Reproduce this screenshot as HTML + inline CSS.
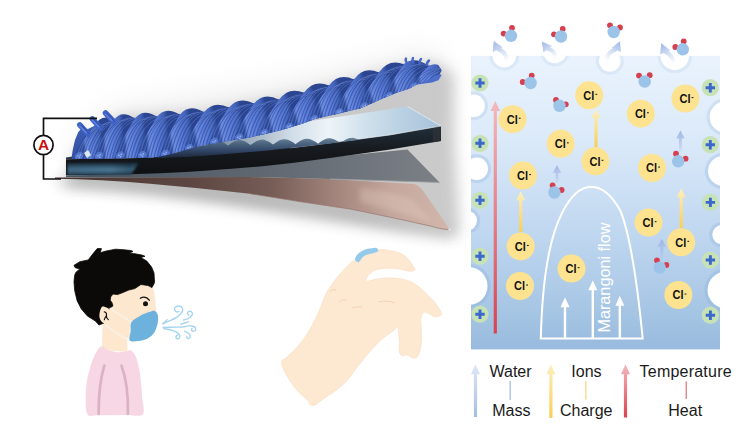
<!DOCTYPE html>
<html><head><meta charset="utf-8"><style>
html,body{margin:0;padding:0;background:#fff;}
body{width:754px;height:445px;overflow:hidden;font-family:"Liberation Sans",sans-serif;}
svg{display:block;}
</style></head><body>
<svg width="754" height="445" viewBox="0 0 754 445">
<defs>
 <linearGradient id="panelG" x1="0" y1="0" x2="0" y2="1">
  <stop offset="0" stop-color="#eaf3fd"/>
  <stop offset="0.3" stop-color="#dae9f9"/>
  <stop offset="0.6" stop-color="#c0d7f0"/>
  <stop offset="0.85" stop-color="#a8c7e5"/>
  <stop offset="1" stop-color="#98badd"/>
 </linearGradient>
 <linearGradient id="redA" x1="0" y1="0" x2="0" y2="1">
  <stop offset="0" stop-color="#f3b9bd"/>
  <stop offset="1" stop-color="#d9434f"/>
 </linearGradient>
 <linearGradient id="yelA" x1="0" y1="0" x2="0" y2="1">
  <stop offset="0" stop-color="#fdefc0"/>
  <stop offset="1" stop-color="#f8cf55"/>
 </linearGradient>
 <linearGradient id="bluA" x1="0" y1="0" x2="0" y2="1">
  <stop offset="0" stop-color="#dfe7f6"/>
  <stop offset="1" stop-color="#a5bde6"/>
 </linearGradient>
 <linearGradient id="bluS" x1="0" y1="0" x2="0" y2="1">
  <stop offset="0" stop-color="#9fb6e6"/>
  <stop offset="1" stop-color="#9fb6e6" stop-opacity="0.1"/>
 </linearGradient>
 <linearGradient id="copperG" x1="55" y1="0" x2="450" y2="0" gradientUnits="userSpaceOnUse">
  <stop offset="0" stop-color="#46342f"/>
  <stop offset="0.35" stop-color="#5e4742"/>
  <stop offset="0.55" stop-color="#765d56"/>
  <stop offset="0.7" stop-color="#a0827a"/>
  <stop offset="0.85" stop-color="#c4a69c"/>
  <stop offset="1" stop-color="#d3b7ab"/>
 </linearGradient>
 <linearGradient id="greyG" x1="66" y1="0" x2="440" y2="0" gradientUnits="userSpaceOnUse">
  <stop offset="0" stop-color="#4a5662"/>
  <stop offset="0.5" stop-color="#5e6670"/>
  <stop offset="1" stop-color="#7c8086"/>
 </linearGradient>
 <linearGradient id="glassTop" x1="66" y1="0" x2="441" y2="0" gradientUnits="userSpaceOnUse">
  <stop offset="0" stop-color="#2a3440"/>
  <stop offset="0.4" stop-color="#7a8c9c"/>
  <stop offset="0.6" stop-color="#d0dce8"/>
  <stop offset="0.7" stop-color="#eef4f8"/>
  <stop offset="0.8" stop-color="#d0e0ec"/>
  <stop offset="0.9" stop-color="#b8d0e2"/>
  <stop offset="1" stop-color="#a6c2da"/>
 </linearGradient>
 <linearGradient id="glassFront" x1="0" y1="0" x2="0" y2="1">
  <stop offset="0" stop-color="#22303c"/>
  <stop offset="0.5" stop-color="#16191d"/>
  <stop offset="1" stop-color="#0e1013"/>
 </linearGradient>
 <filter id="blur6" x="-20%" y="-50%" width="140%" height="200%"><feGaussianBlur stdDeviation="7"/></filter>
 <filter id="blur3"><feGaussianBlur stdDeviation="2.5"/></filter>
 <filter id="blur1"><feGaussianBlur stdDeviation="0.8"/></filter>
 <radialGradient id="poreHalo">
  <stop offset="0.7" stop-color="#ffffff"/>
  <stop offset="0.78" stop-color="#ffffff"/>
  <stop offset="0.82" stop-color="#d8e6f6"/>
  <stop offset="1" stop-color="#d8e6f6" stop-opacity="0"/>
 </radialGradient>
 <linearGradient id="yarnBase" x1="0" y1="0" x2="0" y2="1">
  <stop offset="0" stop-color="#5273d2"/>
  <stop offset="1" stop-color="#3450a4"/>
 </linearGradient>
 <linearGradient id="lobeG" x1="0" y1="0" x2="0" y2="1">
  <stop offset="0" stop-color="#6b8fe6"/>
  <stop offset="0.45" stop-color="#4b71d6"/>
  <stop offset="1" stop-color="#22398a"/>
 </linearGradient>
 <filter id="blurS" filterUnits="userSpaceOnUse" x="0" y="0" width="754" height="445"><feGaussianBlur stdDeviation="7"/></filter>
 <linearGradient id="ribG" x1="0" y1="0" x2="0" y2="1">
  <stop offset="0" stop-color="#6e879c"/>
  <stop offset="0.25" stop-color="#4f6882"/>
  <stop offset="0.6" stop-color="#33486a"/>
  <stop offset="1" stop-color="#1c2638"/>
 </linearGradient>
 <linearGradient id="glassHi" x1="0" y1="0" x2="0" y2="1">
  <stop offset="0" stop-color="#1a2a38"/>
  <stop offset="0.55" stop-color="#4a7896"/>
  <stop offset="1" stop-color="#2c4c64"/>
 </linearGradient>
 <filter id="blurL" filterUnits="userSpaceOnUse" x="0" y="0" width="754" height="445"><feGaussianBlur stdDeviation="14"/></filter>
 <linearGradient id="glassHiH" x1="67" y1="0" x2="140" y2="0" gradientUnits="userSpaceOnUse">
  <stop offset="0" stop-color="#12161a" stop-opacity="0.1"/>
  <stop offset="0.6" stop-color="#12161a" stop-opacity="0"/>
  <stop offset="1" stop-color="#12161a" stop-opacity="0.35"/>
 </linearGradient>
</defs>

<path d="M66 150 L110 112 L200 106 L300 88 L400 60 L430 58 L446 70 L446 126 L452 232 L420 222 L300 202 L150 186 L60 180 Z" fill="#6e6e6e" opacity="0.36" transform="translate(8 5)" filter="url(#blurS)"/>
<path d="M58 178 Q100 180 150 184 Q200 188 250 194 Q300 202 350 209.5 Q400 219 450 230 L452 238 Q400 232 350 224 Q300 216 250 208 Q200 200 150 194 Q100 188 62 186 Z" fill="#707070" opacity="0.48" filter="url(#blurS)"/>
<path d="M70 150 L110 110 L300 80 L430 50 L445 70 L440 130 L300 150 L80 170 Z" fill="#c8c8c8" opacity="0.3" filter="url(#blurL)"/>
<path d="M55 177.6 L140 177.3 L250 177 L330 179 L414.3 184 Q420 186 424 192 L450 230 Q440 229 430 226 Q400 219 350 209 Q300 202 250 193.7 Q200 188 150 183.7 Q100 179.5 55 178.8 Z" fill="url(#copperG)"/>
<path d="M360 188 Q395 192 412 200 L432 222 Q400 212 360 202 Z" fill="#e6d0c6" opacity="0.32" filter="url(#blur3)"/>
<path d="M250 193.7 Q300 202 350 209 Q400 219 430 226 Q440 229 450 230" stroke="#8a6a62" stroke-width="0.9" fill="none" opacity="0.65"/>
<circle cx="449.5" cy="229.6" r="1.1" fill="#f4ece8"/>
<path d="M66 176 L140 173 L300 160 L407.5 149.5 L439.6 182.4 L330 179 L250 177 L140 177.3 L66 177 Z" fill="url(#greyG)"/>
<path d="M330 179 L439.6 182.4" stroke="#9a9ea4" stroke-width="0.9" fill="none"/>
<path d="M66 157.5 L407.5 106.5 L441 126 Q415 130.5 390 134.9 Q360 139 330 142.8 Q295 147 260 150.5 Q220 154 190 156 Q160 157.7 130 158.3 L66 159.3 Z" fill="url(#glassTop)"/>
<path d="M407.5 106.5 L441 126" stroke="#e8eef4" stroke-width="0.8"/>
<path d="M66 159.3 L130 158.3 Q160 157.7 190 156 Q220 154 260 150.5 Q295 147 330 142.8 Q360 139 390 134.9 Q415 130.5 441 126 L441 141.1 Q415 145.5 390 149.6 Q360 154 330 158 Q295 163 260 166.5 Q220 170 190 171.7 Q160 173.5 130 174.3 L66 175.5 Z" fill="url(#glassFront)"/>
<path d="M67.5 163 L139 162.5 L131 174.5 L67.5 175 Z" fill="url(#glassHi)" filter="url(#blur1)"/>
<path d="M67.5 163 L139 162.5 L131 174.5 L67.5 175 Z" fill="url(#glassHiH)" filter="url(#blur1)"/>
<path d="M433 127.3 L440.5 126.2 L440.5 141 L433 142.3 Z" fill="#2c3036" opacity="0.9"/>
<path d="M290 147.8 Q310 145.6 330 142.8 Q360 139 390 134.9 Q415 130.5 441 126" stroke="#eef4f8" stroke-width="0.9" fill="none" opacity="0.75"/>
<path d="M150.0 141.9 L151.5 142.1 L153.0 142.5 L154.5 143.1 L156.0 143.9 L157.5 144.8 L159.0 145.8 L160.5 146.8 L162.0 145.7 L163.5 144.7 L165.0 143.7 L166.5 142.9 L168.0 142.2 L169.5 141.7 L171.0 141.5 L172.5 141.4 L174.0 141.6 L175.5 142.0 L177.0 142.7 L178.5 143.4 L180.0 144.3 L181.5 145.3 L183.0 146.4 L184.5 145.3 L186.0 144.2 L187.5 143.3 L189.0 142.4 L190.5 141.7 L192.0 141.3 L193.5 141.0 L195.0 141.0 L196.5 141.2 L198.0 141.6 L199.5 142.2 L201.0 143.0 L202.5 143.9 L204.0 144.9 L205.5 145.9 L207.0 144.8 L208.5 143.8 L210.0 142.8 L211.5 142.0 L213.0 141.3 L214.5 140.8 L216.0 140.6 L217.5 140.5 L219.0 140.7 L220.5 141.1 L222.0 141.8 L223.5 142.5 L225.0 143.4 L226.5 144.4 L228.0 145.5 L229.5 144.4 L231.0 143.3 L232.5 142.4 L234.0 141.5 L235.5 140.8 L237.0 140.4 L238.5 140.1 L240.0 140.1 L241.5 140.3 L243.0 140.7 L244.5 141.3 L246.0 142.1 L247.5 143.0 L249.0 144.0 L250.5 145.0 L252.0 143.9 L253.5 142.9 L255.0 141.9 L256.5 141.1 L258.0 140.4 L259.5 139.9 L261.0 139.7 L262.5 139.6 L264.0 139.8 L265.5 140.2 L267.0 140.9 L268.5 141.6 L270.0 142.5 L271.5 143.5 L273.0 144.6 L274.5 143.5 L276.0 142.4 L277.5 141.5 L279.0 140.6 L280.5 139.9 L282.0 139.5 L283.5 139.2 L285.0 139.2 L286.5 139.4 L288.0 139.8 L289.5 140.4 L291.0 141.2 L292.5 142.1 L294.0 143.1 L295.5 144.2 L297.0 143.0 L298.5 142.0 L300.0 141.0 L301.5 140.2 L303.0 139.5 L304.5 139.0 L306.0 138.8 L307.5 138.7 L309.0 138.9 L310.5 139.3 L312.0 140.0 L313.5 140.7 L315.0 141.6 L316.5 142.6 L318.0 143.7 L319.5 142.6 L321.0 141.5 L322.5 140.6 L324.0 139.7 L325.5 139.0 L327.0 138.6 L328.5 138.3 L330.0 138.3 L331.5 138.5 L333.0 138.9 L334.5 139.5 L336.0 140.3 L337.5 141.2 L339.0 142.1 L340.5 141.9 L342.0 141.7 L343.5 141.1 L345.0 140.1 L346.5 139.3 L348.0 138.6 L349.5 138.1 L351.0 137.9 L352.5 137.8 L354.0 138.0 L355.5 138.4 L357.0 139.1 L358.5 139.5 L360.0 139.4 L361.5 139.2 L363.0 139.0 L364.0 139.1 L358.0 139.9 L352.0 140.7 L346.0 141.5 L340.0 142.3 L334.0 143.1 L328.0 143.8 L322.0 144.5 L316.0 145.1 L310.0 145.8 L304.0 146.5 L298.0 147.1 L292.0 147.8 L286.0 148.4 L280.0 149.1 L274.0 149.8 L268.0 150.4 L262.0 151.1 L256.0 151.6 L250.0 152.1 L244.0 152.6 L238.0 153.0 L232.0 153.5 L226.0 154.0 L220.0 154.4 L214.0 154.9 L208.0 155.4 L202.0 155.9 L196.0 156.3 L190.0 156.8 L184.0 157.0 L178.0 157.3 L172.0 157.5 L166.0 157.7 L160.0 158.0 L154.0 158.2 Z" fill="url(#ribG)"/>
<clipPath id="yarnClip"><path d="M71.5 154.0 L72.7 145.5 L75 135.5 L78.3 127.5 L82 123.5 L88 121.0 L95 117.5 L102 114.5 L110 111.5 L120 111.0 L136 110.0 L150 109.0 L165 107.5 L175 106.5 L190 105.5 L200 104.5 L215 101.5 L230 98.9 L250 95.8 L270 93.5 L285 89.8 L300 85.5 L322 79.0 L341 73.7 L347 72.5 L360 69.5 L375 66.3 L385.5 59.900000000000006 L400 56.7 L409 54.5 L417 55.7 L430 57.8 L438.5 65.2 L441.7 70.5 L438.5 75.8 L432 77.9 L417 84.6 L409 88.8 L396 93 L385.5 97.3 L375 102 L360 108.5 L349 111 L339 113.5 L328 116 L315 119 L303 123.5 L290 127.5 L280 130.5 L265 134 L250 137.5 L225 141.5 L205 145 L190 148.5 L175 153 L160 156.5 L150 157.5 L120 158.3 L90 158.8 L71.5 159 Z"/></clipPath>
<path d="M71.5 158.5 L72.7 150 L75 140 L78.3 132 L82 128 L88 129.0 L95 125.5 L102 122.5 L110 119.5 L120 119.0 L136 118.0 L150 117.0 L165 115.5 L175 114.5 L190 113.5 L200 112.5 L215 109.5 L230 106.9 L250 103.8 L270 101.5 L285 97.8 L300 93.5 L322 87.0 L341 81.7 L347 80.5 L360 77.5 L375 74.3 L385.5 67.9 L400 64.7 L409 62.5 L417 63.7 L430 65.8 L438.5 73.2 L441.7 75 L438.5 80.3 L432 82.4 L417 84.6 L409 88.8 L396 93 L385.5 97.3 L375 102 L360 108.5 L349 111 L339 113.5 L328 116 L315 119 L303 123.5 L290 127.5 L280 130.5 L265 134 L250 137.5 L225 141.5 L205 145 L190 148.5 L175 153 L160 156.5 L150 157.5 L120 158.3 L90 158.8 L71.5 159 Z" fill="url(#yarnBase)"/>
<g clip-path="url(#yarnClip)">
<linearGradient id="lg0" gradientUnits="userSpaceOnUse" x1="83.0" y1="144.2" x2="103.0" y2="140.8"><stop offset="0" stop-color="#34509e"/><stop offset="0.14" stop-color="#6889de"/><stop offset="0.45" stop-color="#5677d4"/><stop offset="0.82" stop-color="#4263b8"/><stop offset="1" stop-color="#2b4590"/></linearGradient>
<path d="M72.0 162.0 Q80.0 144.2 94.0 126.5 Q101.0 113.2 114.0 119.8 Q100.0 140.8 92.0 161.8 Q82.0 164.9 72.0 162.0 Z" fill="url(#lg0)"/>
<path d="M73.4 162.4 Q82.0 129.1 103.4 127.6 M76.3 163.2 Q86.5 126.6 106.3 125.1 M79.1 163.7 Q88.1 124.5 109.1 123.0 M82.0 163.9 Q89.8 123.2 112.0 121.7 M84.9 163.7 Q94.3 122.6 114.9 121.1 M87.7 163.1 Q95.9 122.7 117.7 121.2 M90.6 162.2 Q100.4 123.4 120.6 121.9" stroke="#27418e" stroke-width="1.0" fill="none" opacity="0.55"/>
<path d="M74.9 162.8 Q84.3 127.8 104.9 126.3 M77.7 163.5 Q85.9 125.5 107.7 124.0 M80.6 163.8 Q90.4 123.7 110.6 122.2 M83.4 163.8 Q92.0 122.8 113.4 121.3 M86.3 163.4 Q96.5 122.6 116.3 121.1 M89.1 162.7 Q98.1 123.0 119.1 121.5" stroke="#84a2ee" stroke-width="0.7" fill="none" opacity="0.45"/>
<ellipse cx="79.0" cy="156.0" rx="4.5" ry="3.5" transform="rotate(-40 79.0 156.0)" fill="#5b7fd8" opacity="0.8"/>
<circle cx="78.0" cy="156.0" r="0.8" fill="#9ab4f0"/><circle cx="80.2" cy="155.0" r="0.8" fill="#9ab4f0"/><circle cx="79.5" cy="157.3" r="0.8" fill="#9ab4f0"/>
<linearGradient id="lg1" gradientUnits="userSpaceOnUse" x1="103.0" y1="140.8" x2="124.0" y2="140.0"><stop offset="0" stop-color="#34509e"/><stop offset="0.14" stop-color="#6889de"/><stop offset="0.45" stop-color="#5677d4"/><stop offset="0.82" stop-color="#4263b8"/><stop offset="1" stop-color="#2b4590"/></linearGradient>
<path d="M92.0 161.8 Q100.0 140.8 114.0 119.8 Q121.5 109.2 135.0 118.6 Q121.0 140.0 113.0 161.4 Q102.5 164.6 92.0 161.8 Z" fill="url(#lg1)"/>
<path d="M93.5 162.2 Q103.7 122.8 123.5 121.3 M96.5 162.9 Q105.5 121.0 126.5 119.5 M99.5 163.4 Q107.3 119.8 129.5 118.3 M102.5 163.6 Q111.9 119.2 132.5 117.7 M105.5 163.3 Q113.7 119.4 135.5 117.9 M108.5 162.7 Q118.3 120.3 138.5 118.8 M111.5 161.9 Q120.1 121.8 141.5 120.3" stroke="#27418e" stroke-width="1.0" fill="none" opacity="0.55"/>
<path d="M95.0 162.6 Q103.2 121.9 125.0 120.4 M98.0 163.2 Q107.8 120.3 128.0 118.8 M101.0 163.6 Q109.6 119.4 131.0 117.9 M104.0 163.5 Q114.2 119.2 134.0 117.7 M107.0 163.1 Q116.0 119.8 137.0 118.3 M110.0 162.3 Q117.8 121.0 140.0 119.5" stroke="#84a2ee" stroke-width="0.7" fill="none" opacity="0.45"/>
<ellipse cx="99.0" cy="155.8" rx="4.5" ry="3.5" transform="rotate(-40 99.0 155.8)" fill="#5b7fd8" opacity="0.8"/>
<circle cx="98.0" cy="155.8" r="0.8" fill="#9ab4f0"/><circle cx="100.2" cy="154.8" r="0.8" fill="#9ab4f0"/><circle cx="99.5" cy="157.1" r="0.8" fill="#9ab4f0"/>
<linearGradient id="lg2" gradientUnits="userSpaceOnUse" x1="124.0" y1="140.0" x2="146.0" y2="138.8"><stop offset="0" stop-color="#34509e"/><stop offset="0.14" stop-color="#6889de"/><stop offset="0.45" stop-color="#5677d4"/><stop offset="0.82" stop-color="#4263b8"/><stop offset="1" stop-color="#2b4590"/></linearGradient>
<path d="M113.0 161.4 Q121.0 140.0 135.0 118.6 Q143.0 107.7 157.0 116.8 Q143.0 138.8 135.0 160.9 Q124.0 164.2 113.0 161.4 Z" fill="url(#lg2)"/>
<path d="M114.6 161.8 Q123.6 121.5 144.6 120.0 M117.7 162.6 Q125.5 119.7 147.7 118.2 M120.9 163.0 Q130.3 118.3 150.9 116.8 M124.0 163.2 Q132.2 117.7 154.0 116.2 M127.1 162.9 Q136.9 117.8 157.1 116.3 M130.3 162.3 Q138.9 118.7 160.3 117.2 M133.4 161.4 Q143.6 120.0 163.4 118.5" stroke="#27418e" stroke-width="1.0" fill="none" opacity="0.55"/>
<path d="M116.1 162.2 Q125.9 120.6 146.1 119.1 M119.3 162.8 Q127.9 118.9 149.3 117.4 M122.4 163.1 Q132.6 117.9 152.4 116.4 M125.6 163.1 Q134.6 117.7 155.6 116.2 M128.7 162.6 Q136.5 118.2 158.7 116.7 M131.9 161.8 Q141.3 119.3 161.9 117.8" stroke="#84a2ee" stroke-width="0.7" fill="none" opacity="0.45"/>
<ellipse cx="120.0" cy="155.4" rx="4.5" ry="3.5" transform="rotate(-40 120.0 155.4)" fill="#5b7fd8" opacity="0.8"/>
<circle cx="119.0" cy="155.4" r="0.8" fill="#9ab4f0"/><circle cx="121.2" cy="154.4" r="0.8" fill="#9ab4f0"/><circle cx="120.5" cy="156.7" r="0.8" fill="#9ab4f0"/>
<linearGradient id="lg3" gradientUnits="userSpaceOnUse" x1="146.0" y1="138.8" x2="169.0" y2="137.2"><stop offset="0" stop-color="#34509e"/><stop offset="0.14" stop-color="#6889de"/><stop offset="0.45" stop-color="#5677d4"/><stop offset="0.82" stop-color="#4263b8"/><stop offset="1" stop-color="#2b4590"/></linearGradient>
<path d="M135.0 160.9 Q143.0 138.8 157.0 116.8 Q165.5 105.7 180.0 114.7 Q166.0 137.2 158.0 159.7 Q146.5 163.3 135.0 160.9 Z" fill="url(#lg3)"/>
<path d="M136.6 161.3 Q144.4 119.8 166.6 118.3 M139.9 161.9 Q149.3 117.8 169.9 116.3 M143.2 162.3 Q151.4 116.4 173.2 114.9 M146.5 162.3 Q156.3 115.7 176.5 114.2 M149.8 161.9 Q158.4 115.8 179.8 114.3 M153.1 161.2 Q163.3 116.6 183.1 115.1 M156.4 160.2 Q165.4 117.9 186.4 116.4" stroke="#27418e" stroke-width="1.0" fill="none" opacity="0.55"/>
<path d="M138.3 161.6 Q146.9 118.8 168.3 117.3 M141.6 162.1 Q151.8 117.1 171.6 115.6 M144.9 162.3 Q153.9 116.0 174.9 114.5 M148.1 162.2 Q155.9 115.7 178.1 114.2 M151.4 161.6 Q160.8 116.1 181.4 114.6 M154.7 160.7 Q162.9 117.2 184.7 115.7" stroke="#84a2ee" stroke-width="0.7" fill="none" opacity="0.45"/>
<ellipse cx="142.0" cy="154.9" rx="4.5" ry="3.5" transform="rotate(-40 142.0 154.9)" fill="#5b7fd8" opacity="0.8"/>
<circle cx="141.0" cy="154.9" r="0.8" fill="#9ab4f0"/><circle cx="143.2" cy="153.9" r="0.8" fill="#9ab4f0"/><circle cx="142.5" cy="156.2" r="0.8" fill="#9ab4f0"/>
<linearGradient id="lg4" gradientUnits="userSpaceOnUse" x1="169.0" y1="137.2" x2="193.0" y2="133.1"><stop offset="0" stop-color="#34509e"/><stop offset="0.14" stop-color="#6889de"/><stop offset="0.45" stop-color="#5677d4"/><stop offset="0.82" stop-color="#4263b8"/><stop offset="1" stop-color="#2b4590"/></linearGradient>
<path d="M158.0 159.7 Q166.0 137.2 180.0 114.7 Q189.0 103.4 204.0 112.2 Q190.0 133.1 182.0 153.9 Q170.0 159.8 158.0 159.7 Z" fill="url(#lg4)"/>
<path d="M159.7 159.7 Q169.1 117.6 189.7 116.1 M163.1 159.7 Q171.3 115.6 193.1 114.1 M166.6 159.4 Q176.4 114.2 196.6 112.7 M170.0 158.8 Q178.6 113.4 200.0 111.9 M173.4 157.8 Q183.6 113.5 203.4 112.0 M176.9 156.4 Q185.9 114.2 206.9 112.7 M180.3 154.8 Q188.1 115.5 210.3 114.0" stroke="#27418e" stroke-width="1.0" fill="none" opacity="0.55"/>
<path d="M161.4 159.7 Q171.6 116.6 191.4 115.1 M164.9 159.6 Q173.9 114.8 194.9 113.3 M168.3 159.2 Q176.1 113.7 198.3 112.2 M171.7 158.3 Q181.1 113.4 201.7 111.9 M175.1 157.1 Q183.3 113.8 205.1 112.3 M178.6 155.6 Q188.4 114.8 208.6 113.3" stroke="#84a2ee" stroke-width="0.7" fill="none" opacity="0.45"/>
<ellipse cx="165.0" cy="153.7" rx="4.5" ry="3.5" transform="rotate(-40 165.0 153.7)" fill="#5b7fd8" opacity="0.8"/>
<circle cx="164.0" cy="153.7" r="0.8" fill="#9ab4f0"/><circle cx="166.2" cy="152.7" r="0.8" fill="#9ab4f0"/><circle cx="165.5" cy="155.0" r="0.8" fill="#9ab4f0"/>
<linearGradient id="lg5" gradientUnits="userSpaceOnUse" x1="193.0" y1="133.1" x2="218.0" y2="127.6"><stop offset="0" stop-color="#34509e"/><stop offset="0.14" stop-color="#6889de"/><stop offset="0.45" stop-color="#5677d4"/><stop offset="0.82" stop-color="#4263b8"/><stop offset="1" stop-color="#2b4590"/></linearGradient>
<path d="M182.0 153.9 Q190.0 133.1 204.0 112.2 Q213.5 99.9 229.0 107.6 Q215.0 127.6 207.0 147.7 Q194.5 153.8 182.0 153.9 Z" fill="url(#lg5)"/>
<path d="M183.8 153.9 Q192.0 115.0 213.8 113.5 M187.4 153.8 Q197.2 112.7 217.4 111.2 M190.9 153.5 Q199.5 110.9 220.9 109.4 M194.5 152.8 Q204.7 109.9 224.5 108.4 M198.1 151.7 Q207.1 109.6 228.1 108.1 M201.6 150.2 Q209.4 110.1 231.6 108.6 M205.2 148.5 Q214.6 111.0 235.2 109.5" stroke="#27418e" stroke-width="1.0" fill="none" opacity="0.55"/>
<path d="M185.6 153.9 Q194.6 113.8 215.6 112.3 M189.1 153.7 Q196.9 111.8 219.1 110.3 M192.7 153.2 Q202.1 110.3 222.7 108.8 M196.3 152.3 Q204.5 109.7 226.3 108.2 M199.9 151.0 Q209.7 109.8 229.9 108.3 M203.4 149.4 Q212.0 110.5 233.4 109.0" stroke="#84a2ee" stroke-width="0.7" fill="none" opacity="0.45"/>
<ellipse cx="189.0" cy="147.9" rx="4.5" ry="3.5" transform="rotate(-40 189.0 147.9)" fill="#5b7fd8" opacity="0.8"/>
<circle cx="188.0" cy="147.9" r="0.8" fill="#9ab4f0"/><circle cx="190.2" cy="146.9" r="0.8" fill="#9ab4f0"/><circle cx="189.5" cy="149.2" r="0.8" fill="#9ab4f0"/>
<linearGradient id="lg6" gradientUnits="userSpaceOnUse" x1="218.0" y1="127.6" x2="243.0" y2="123.6"><stop offset="0" stop-color="#34509e"/><stop offset="0.14" stop-color="#6889de"/><stop offset="0.45" stop-color="#5677d4"/><stop offset="0.82" stop-color="#4263b8"/><stop offset="1" stop-color="#2b4590"/></linearGradient>
<path d="M207.0 147.7 Q215.0 127.6 229.0 107.6 Q238.5 95.7 254.0 103.8 Q240.0 123.6 232.0 143.4 Q219.5 148.5 207.0 147.7 Z" fill="url(#lg6)"/>
<path d="M208.8 147.8 Q218.6 110.4 238.8 108.9 M212.4 148.0 Q221.0 108.3 242.4 106.8 M215.9 147.9 Q226.1 106.6 245.9 105.1 M219.5 147.5 Q228.5 105.7 249.5 104.2 M223.1 146.7 Q230.9 105.6 253.1 104.1 M226.6 145.5 Q236.0 106.1 256.6 104.6 M230.2 144.1 Q238.4 107.2 260.2 105.7" stroke="#27418e" stroke-width="1.0" fill="none" opacity="0.55"/>
<path d="M210.6 147.9 Q218.4 109.3 240.6 107.8 M214.1 148.0 Q223.5 107.4 244.1 105.9 M217.7 147.8 Q225.9 106.1 247.7 104.6 M221.3 147.2 Q231.1 105.5 251.3 104.0 M224.9 146.2 Q233.5 105.8 254.9 104.3 M228.4 144.9 Q238.6 106.6 258.4 105.1" stroke="#84a2ee" stroke-width="0.7" fill="none" opacity="0.45"/>
<ellipse cx="214.0" cy="141.7" rx="4.5" ry="3.5" transform="rotate(-40 214.0 141.7)" fill="#5b7fd8" opacity="0.8"/>
<circle cx="213.0" cy="141.7" r="0.8" fill="#9ab4f0"/><circle cx="215.2" cy="140.7" r="0.8" fill="#9ab4f0"/><circle cx="214.5" cy="143.0" r="0.8" fill="#9ab4f0"/>
<linearGradient id="lg7" gradientUnits="userSpaceOnUse" x1="243.0" y1="123.6" x2="268.0" y2="119.3"><stop offset="0" stop-color="#34509e"/><stop offset="0.14" stop-color="#6889de"/><stop offset="0.45" stop-color="#5677d4"/><stop offset="0.82" stop-color="#4263b8"/><stop offset="1" stop-color="#2b4590"/></linearGradient>
<path d="M232.0 143.4 Q240.0 123.6 254.0 103.8 Q263.5 91.8 279.0 99.8 Q265.0 119.3 257.0 138.9 Q244.5 144.1 232.0 143.4 Z" fill="url(#lg7)"/>
<path d="M233.8 143.5 Q242.4 106.7 263.8 105.2 M237.4 143.7 Q247.6 104.5 267.4 103.0 M240.9 143.6 Q249.9 102.8 270.9 101.3 M244.5 143.1 Q252.3 101.8 274.5 100.3 M248.1 142.3 Q257.5 101.6 278.1 100.1 M251.6 141.1 Q259.8 102.2 281.6 100.7 M255.2 139.6 Q265.0 103.2 285.2 101.7" stroke="#27418e" stroke-width="1.0" fill="none" opacity="0.55"/>
<path d="M235.6 143.6 Q245.0 105.5 265.6 104.0 M239.1 143.7 Q247.3 103.6 269.1 102.1 M242.7 143.4 Q252.5 102.2 272.7 100.7 M246.3 142.8 Q254.9 101.6 276.3 100.1 M249.9 141.7 Q260.1 101.8 279.9 100.3 M253.4 140.4 Q262.4 102.6 283.4 101.1" stroke="#84a2ee" stroke-width="0.7" fill="none" opacity="0.45"/>
<ellipse cx="239.0" cy="137.4" rx="4.5" ry="3.5" transform="rotate(-40 239.0 137.4)" fill="#5b7fd8" opacity="0.8"/>
<circle cx="238.0" cy="137.4" r="0.8" fill="#9ab4f0"/><circle cx="240.2" cy="136.4" r="0.8" fill="#9ab4f0"/><circle cx="239.5" cy="138.7" r="0.8" fill="#9ab4f0"/>
<linearGradient id="lg8" gradientUnits="userSpaceOnUse" x1="268.0" y1="119.3" x2="293.0" y2="112.9"><stop offset="0" stop-color="#34509e"/><stop offset="0.14" stop-color="#6889de"/><stop offset="0.45" stop-color="#5677d4"/><stop offset="0.82" stop-color="#4263b8"/><stop offset="1" stop-color="#2b4590"/></linearGradient>
<path d="M257.0 138.9 Q265.0 119.3 279.0 99.8 Q288.5 86.3 304.0 92.8 Q290.0 112.9 282.0 132.9 Q269.5 138.9 257.0 138.9 Z" fill="url(#lg8)"/>
<path d="M258.8 138.9 Q269.0 102.4 288.8 100.9 M262.4 138.8 Q271.4 99.8 292.4 98.3 M265.9 138.5 Q273.7 97.7 295.9 96.2 M269.5 137.9 Q278.9 96.3 299.5 94.8 M273.1 136.8 Q281.3 95.7 303.1 94.2 M276.6 135.4 Q286.4 95.8 306.6 94.3 M280.2 133.8 Q288.8 96.4 310.2 94.9" stroke="#27418e" stroke-width="1.0" fill="none" opacity="0.55"/>
<path d="M260.6 138.9 Q268.8 101.0 290.6 99.5 M264.1 138.7 Q273.9 98.7 294.1 97.2 M267.7 138.3 Q276.3 96.9 297.7 95.4 M271.3 137.4 Q281.5 95.9 301.3 94.4 M274.9 136.2 Q283.9 95.7 304.9 94.2 M278.4 134.6 Q286.2 96.1 308.4 94.6" stroke="#84a2ee" stroke-width="0.7" fill="none" opacity="0.45"/>
<ellipse cx="264.0" cy="132.9" rx="4.5" ry="3.5" transform="rotate(-40 264.0 132.9)" fill="#5b7fd8" opacity="0.8"/>
<circle cx="263.0" cy="132.9" r="0.8" fill="#9ab4f0"/><circle cx="265.2" cy="131.9" r="0.8" fill="#9ab4f0"/><circle cx="264.5" cy="134.2" r="0.8" fill="#9ab4f0"/>
<linearGradient id="lg9" gradientUnits="userSpaceOnUse" x1="293.0" y1="112.9" x2="318.0" y2="105.3"><stop offset="0" stop-color="#34509e"/><stop offset="0.14" stop-color="#6889de"/><stop offset="0.45" stop-color="#5677d4"/><stop offset="0.82" stop-color="#4263b8"/><stop offset="1" stop-color="#2b4590"/></linearGradient>
<path d="M282.0 132.9 Q290.0 112.9 304.0 92.8 Q313.5 79.2 329.0 85.5 Q315.0 105.3 307.0 125.0 Q294.5 131.9 282.0 132.9 Z" fill="url(#lg9)"/>
<path d="M283.8 132.8 Q292.8 95.4 313.8 93.9 M287.4 132.5 Q295.2 92.8 317.4 91.3 M290.9 131.9 Q300.3 90.6 320.9 89.1 M294.5 130.9 Q302.7 89.2 324.5 87.7 M298.1 129.6 Q307.9 88.5 328.1 87.0 M301.6 127.9 Q310.2 88.6 331.6 87.1 M305.2 126.0 Q315.4 89.2 335.2 87.7" stroke="#27418e" stroke-width="1.0" fill="none" opacity="0.55"/>
<path d="M285.6 132.6 Q295.4 94.0 315.6 92.5 M289.1 132.2 Q297.7 91.6 319.1 90.1 M292.7 131.5 Q302.9 89.8 322.7 88.3 M296.3 130.3 Q305.3 88.8 326.3 87.3 M299.9 128.8 Q307.7 88.5 329.9 87.0 M303.4 127.0 Q312.8 88.9 333.4 87.4" stroke="#84a2ee" stroke-width="0.7" fill="none" opacity="0.45"/>
<ellipse cx="289.0" cy="126.9" rx="4.5" ry="3.5" transform="rotate(-40 289.0 126.9)" fill="#5b7fd8" opacity="0.8"/>
<circle cx="288.0" cy="126.9" r="0.8" fill="#9ab4f0"/><circle cx="290.2" cy="125.9" r="0.8" fill="#9ab4f0"/><circle cx="289.5" cy="128.2" r="0.8" fill="#9ab4f0"/>
<linearGradient id="lg10" gradientUnits="userSpaceOnUse" x1="318.0" y1="105.3" x2="343.0" y2="98.7"><stop offset="0" stop-color="#34509e"/><stop offset="0.14" stop-color="#6889de"/><stop offset="0.45" stop-color="#5677d4"/><stop offset="0.82" stop-color="#4263b8"/><stop offset="1" stop-color="#2b4590"/></linearGradient>
<path d="M307.0 125.0 Q315.0 105.3 329.0 85.5 Q338.5 72.5 354.0 79.4 Q340.0 98.7 332.0 118.1 Q319.5 124.5 307.0 125.0 Z" fill="url(#lg10)"/>
<path d="M308.8 125.0 Q316.6 88.2 338.8 86.7 M312.4 124.8 Q321.8 85.7 342.4 84.2 M315.9 124.3 Q324.1 83.7 345.9 82.2 M319.5 123.5 Q329.3 82.5 349.5 81.0 M323.1 122.4 Q331.7 82.0 353.1 80.5 M326.6 120.8 Q336.8 82.2 356.6 80.7 M330.2 119.0 Q339.2 82.9 360.2 81.4" stroke="#27418e" stroke-width="1.0" fill="none" opacity="0.55"/>
<path d="M310.6 124.9 Q319.2 86.9 340.6 85.4 M314.1 124.6 Q324.3 84.7 344.1 83.2 M317.7 124.0 Q326.7 83.0 347.7 81.5 M321.3 123.0 Q329.1 82.1 351.3 80.6 M324.9 121.6 Q334.3 82.0 354.9 80.5 M328.4 119.9 Q336.6 82.5 358.4 81.0" stroke="#84a2ee" stroke-width="0.7" fill="none" opacity="0.45"/>
<ellipse cx="314.0" cy="119.0" rx="4.5" ry="3.5" transform="rotate(-40 314.0 119.0)" fill="#5b7fd8" opacity="0.8"/>
<circle cx="313.0" cy="119.0" r="0.8" fill="#9ab4f0"/><circle cx="315.2" cy="118.0" r="0.8" fill="#9ab4f0"/><circle cx="314.5" cy="120.3" r="0.8" fill="#9ab4f0"/>
<linearGradient id="lg11" gradientUnits="userSpaceOnUse" x1="343.0" y1="98.7" x2="368.0" y2="92.3"><stop offset="0" stop-color="#34509e"/><stop offset="0.14" stop-color="#6889de"/><stop offset="0.45" stop-color="#5677d4"/><stop offset="0.82" stop-color="#4263b8"/><stop offset="1" stop-color="#2b4590"/></linearGradient>
<path d="M332.0 118.1 Q340.0 98.7 354.0 79.4 Q363.5 65.9 379.0 72.4 Q365.0 92.3 357.0 112.2 Q344.5 118.1 332.0 118.1 Z" fill="url(#lg11)"/>
<path d="M333.8 118.1 Q343.2 82.0 363.8 80.5 M337.4 118.1 Q345.6 79.4 367.4 77.9 M340.9 117.8 Q350.7 77.3 370.9 75.8 M344.5 117.1 Q353.1 75.9 374.5 74.4 M348.1 116.1 Q358.3 75.3 378.1 73.8 M351.6 114.7 Q360.6 75.4 381.6 73.9 M355.2 113.0 Q363.0 76.0 385.2 74.5" stroke="#27418e" stroke-width="1.0" fill="none" opacity="0.55"/>
<path d="M335.6 118.1 Q345.8 80.6 365.6 79.1 M339.1 118.0 Q348.1 78.3 369.1 76.8 M342.7 117.5 Q350.5 76.5 372.7 75.0 M346.3 116.7 Q355.7 75.5 376.3 74.0 M349.9 115.4 Q358.1 75.2 379.9 73.7 M353.4 113.9 Q363.2 75.6 383.4 74.1" stroke="#84a2ee" stroke-width="0.7" fill="none" opacity="0.45"/>
<ellipse cx="339.0" cy="112.1" rx="4.5" ry="3.5" transform="rotate(-40 339.0 112.1)" fill="#5b7fd8" opacity="0.8"/>
<circle cx="338.0" cy="112.1" r="0.8" fill="#9ab4f0"/><circle cx="340.2" cy="111.1" r="0.8" fill="#9ab4f0"/><circle cx="339.5" cy="113.4" r="0.8" fill="#9ab4f0"/>
<linearGradient id="lg12" gradientUnits="userSpaceOnUse" x1="368.0" y1="92.3" x2="393.0" y2="83.0"><stop offset="0" stop-color="#34509e"/><stop offset="0.14" stop-color="#6889de"/><stop offset="0.45" stop-color="#5677d4"/><stop offset="0.82" stop-color="#4263b8"/><stop offset="1" stop-color="#2b4590"/></linearGradient>
<path d="M357.0 112.2 Q365.0 92.3 379.0 72.4 Q388.5 58.3 404.0 64.2 Q390.0 83.0 382.0 101.9 Q369.5 110.0 357.0 112.2 Z" fill="url(#lg12)"/>
<path d="M358.8 111.9 Q367.0 74.9 388.8 73.4 M362.4 111.2 Q372.2 72.1 392.4 70.6 M365.9 110.3 Q374.5 69.9 395.9 68.4 M369.5 109.0 Q379.7 68.3 399.5 66.8 M373.1 107.4 Q382.1 67.5 403.1 66.0 M376.6 105.3 Q384.4 67.5 406.6 66.0 M380.2 103.0 Q389.6 67.9 410.2 66.4" stroke="#27418e" stroke-width="1.0" fill="none" opacity="0.55"/>
<path d="M360.6 111.6 Q369.6 73.5 390.6 72.0 M364.1 110.8 Q371.9 70.9 394.1 69.4 M367.7 109.7 Q377.1 69.0 397.7 67.5 M371.3 108.2 Q379.5 67.8 401.3 66.3 M374.9 106.4 Q384.7 67.4 404.9 65.9 M378.4 104.2 Q387.0 67.6 408.4 66.1" stroke="#84a2ee" stroke-width="0.7" fill="none" opacity="0.45"/>
<ellipse cx="364.0" cy="106.2" rx="4.5" ry="3.5" transform="rotate(-40 364.0 106.2)" fill="#5b7fd8" opacity="0.8"/>
<circle cx="363.0" cy="106.2" r="0.8" fill="#9ab4f0"/><circle cx="365.2" cy="105.2" r="0.8" fill="#9ab4f0"/><circle cx="364.5" cy="107.5" r="0.8" fill="#9ab4f0"/>
<linearGradient id="lg13" gradientUnits="userSpaceOnUse" x1="393.0" y1="83.0" x2="418.0" y2="79.3"><stop offset="0" stop-color="#34509e"/><stop offset="0.14" stop-color="#6889de"/><stop offset="0.45" stop-color="#5677d4"/><stop offset="0.82" stop-color="#4263b8"/><stop offset="1" stop-color="#2b4590"/></linearGradient>
<path d="M382.0 101.9 Q390.0 83.0 404.0 64.2 Q413.5 55.2 429.0 66.1 Q415.0 79.3 407.0 92.4 Q394.5 100.2 382.0 101.9 Z" fill="url(#lg13)"/>
<path d="M383.8 101.6 Q393.6 67.5 413.8 66.0 M387.4 101.1 Q396.0 66.1 417.4 64.6 M390.9 100.3 Q401.1 65.3 420.9 63.8 M394.5 99.2 Q403.5 65.2 424.5 63.7 M398.1 97.6 Q405.9 65.9 428.1 64.4 M401.6 95.7 Q411.0 67.2 431.6 65.7 M405.2 93.6 Q413.4 69.1 435.2 67.6" stroke="#27418e" stroke-width="1.0" fill="none" opacity="0.55"/>
<path d="M385.6 101.4 Q393.4 66.8 415.6 65.3 M389.1 100.7 Q398.5 65.6 419.1 64.1 M392.7 99.8 Q400.9 65.1 422.7 63.6 M396.3 98.4 Q406.1 65.4 426.3 63.9 M399.9 96.7 Q408.5 66.5 429.9 65.0 M403.4 94.7 Q413.6 68.1 433.4 66.6" stroke="#84a2ee" stroke-width="0.7" fill="none" opacity="0.45"/>
<ellipse cx="389.0" cy="95.9" rx="4.5" ry="3.5" transform="rotate(-40 389.0 95.9)" fill="#5b7fd8" opacity="0.8"/>
<circle cx="388.0" cy="95.9" r="0.8" fill="#9ab4f0"/><circle cx="390.2" cy="94.9" r="0.8" fill="#9ab4f0"/><circle cx="389.5" cy="97.2" r="0.8" fill="#9ab4f0"/>
<linearGradient id="lg14" gradientUnits="userSpaceOnUse" x1="418.0" y1="79.3" x2="441.0" y2="79.4"><stop offset="0" stop-color="#34509e"/><stop offset="0.14" stop-color="#6889de"/><stop offset="0.45" stop-color="#5677d4"/><stop offset="0.82" stop-color="#4263b8"/><stop offset="1" stop-color="#2b4590"/></linearGradient>
<path d="M407.0 92.4 Q415.0 79.3 429.0 66.1 Q437.5 59.9 452.0 73.7 Q438.0 79.4 430.0 85.2 Q418.5 91.8 407.0 92.4 Z" fill="url(#lg14)"/>
<path d="M408.6 92.4 Q417.2 69.8 438.6 68.3 M411.9 92.1 Q422.1 69.3 441.9 67.8 M415.2 91.7 Q424.2 69.2 445.2 67.7 M418.5 90.8 Q426.3 69.9 448.5 68.4 M421.8 89.6 Q431.2 71.4 451.8 69.9 M425.1 88.0 Q433.3 73.6 455.1 72.1 M428.4 86.1 Q438.2 76.3 458.4 74.8" stroke="#27418e" stroke-width="1.0" fill="none" opacity="0.55"/>
<path d="M410.3 92.3 Q419.7 69.5 440.3 68.0 M413.6 91.9 Q421.8 69.2 443.6 67.7 M416.9 91.3 Q426.7 69.5 446.9 68.0 M420.1 90.2 Q428.7 70.6 450.1 69.1 M423.4 88.8 Q433.6 72.4 453.4 70.9 M426.7 87.1 Q435.7 74.9 456.7 73.4" stroke="#84a2ee" stroke-width="0.7" fill="none" opacity="0.45"/>
<ellipse cx="414.0" cy="86.4" rx="4.5" ry="3.5" transform="rotate(-40 414.0 86.4)" fill="#5b7fd8" opacity="0.8"/>
<circle cx="413.0" cy="86.4" r="0.8" fill="#9ab4f0"/><circle cx="415.2" cy="85.4" r="0.8" fill="#9ab4f0"/><circle cx="414.5" cy="87.7" r="0.8" fill="#9ab4f0"/>
</g>
<path d="M88 134 L79.8 124.8" stroke="#3f62c6" stroke-width="5.5" stroke-linecap="round"/>
<path d="M86.5 133 L79.3 125.6" stroke="#6f90e6" stroke-width="1.1" stroke-linecap="round" opacity="0.8"/>
<path d="M89 133.5 L81.6 125.39999999999999" stroke="#25408e" stroke-width="0.9" stroke-linecap="round" opacity="0.7"/>
<path d="M100.5 128 L92.3 118.8" stroke="#3f62c6" stroke-width="5.5" stroke-linecap="round"/>
<path d="M99.0 127 L91.8 119.6" stroke="#6f90e6" stroke-width="1.1" stroke-linecap="round" opacity="0.8"/>
<path d="M101.5 127.5 L94.1 119.39999999999999" stroke="#25408e" stroke-width="0.9" stroke-linecap="round" opacity="0.7"/>
<path d="M113.5 121.5 L105.5 113" stroke="#3f62c6" stroke-width="5.5" stroke-linecap="round"/>
<path d="M112.0 120.5 L105.0 113.8" stroke="#6f90e6" stroke-width="1.1" stroke-linecap="round" opacity="0.8"/>
<path d="M114.5 121.0 L107.3 113.6" stroke="#25408e" stroke-width="0.9" stroke-linecap="round" opacity="0.7"/>
<path d="M407 63 Q405.0 60.75 406 58.5" stroke="#4767c4" stroke-width="2.4" stroke-linecap="round" fill="none"/>
<path d="M413.5 62.5 Q411.75 60.25 413 58" stroke="#4767c4" stroke-width="2.4" stroke-linecap="round" fill="none"/>
<path d="M420 63.5 Q419.0 61.25 421 59" stroke="#4767c4" stroke-width="2.4" stroke-linecap="round" fill="none"/>
<path d="M427 65 Q426.5 62.75 429 60.5" stroke="#4767c4" stroke-width="2.4" stroke-linecap="round" fill="none"/>
<path d="M84 153 L88 150 L91 155 L87 158 Z" fill="#dde8ee"/>
<path d="M97 118.3 L43.5 118.3 L43.5 179 L61 179" fill="none" stroke="#111" stroke-width="1.7"/>
<circle cx="43.5" cy="145" r="9.6" fill="#fff" stroke="#111" stroke-width="1.7"/>
<text x="43.7" y="150.3" font-family="Liberation Sans" font-weight="bold" font-size="15.5" fill="#cc1010" text-anchor="middle">A</text>
<path d="M102.5 325 L127 325 L127.5 352 L102 350 Z" fill="#fde8cf"/>
<path d="M101.0 346.5 C103.4 345.6 105.8 349.4 108.7 350.3 C111.6 351.2 115.2 352.0 118.2 352.2 C121.2 352.4 124.8 351.6 126.9 351.3 C129.0 351.0 129.3 349.5 130.7 350.3 C132.1 351.1 134.1 352.8 135.5 356.0 C136.9 359.2 138.4 364.6 139.3 369.4 C140.2 374.2 140.7 379.9 141.2 384.7 C141.7 389.5 141.9 393.2 142.2 398.1 C142.4 403.1 145.4 411.6 142.7 414.4 C140.0 417.2 133.2 414.9 125.9 415.0 C118.6 415.1 105.5 415.4 99.1 415.3 C92.7 415.2 89.8 417.3 87.6 414.4 C85.4 411.5 85.8 403.4 85.7 398.1 C85.6 392.8 86.1 387.6 86.7 382.8 C87.3 378.0 88.3 373.9 89.6 369.4 C90.9 364.9 92.4 359.8 94.3 356.0 C96.2 352.2 98.6 347.4 101.0 346.5 Z" fill="#f6d7e3"/>
<path d="M104.3 365.6 Q98.5 385 98.6 414" stroke="#dab2c4" stroke-width="2.7" fill="none" stroke-linecap="round"/>
<path d="M121.5 365.6 Q128.6 385 127.9 414" stroke="#dab2c4" stroke-width="2.7" fill="none" stroke-linecap="round"/>
<path d="M103.0 305.0 C103.8 300.4 106.9 300.6 108.5 298.7 C110.1 296.8 111.1 295.0 112.6 293.6 C114.1 292.2 114.7 292.0 117.6 290.6 C120.5 289.2 125.9 286.5 129.8 285.5 C133.7 284.5 137.2 284.1 140.9 284.5 C144.6 284.9 149.7 285.9 152.0 287.6 C154.3 289.4 153.9 292.1 154.5 295.0 C155.1 297.9 155.2 302.2 155.5 305.0 C155.8 307.8 156.9 307.8 156.0 312.0 C155.1 316.2 154.3 325.7 150.0 330.0 C145.7 334.3 136.3 337.3 130.0 338.0 C123.7 338.7 116.3 336.0 112.0 334.0 C107.7 332.0 105.5 330.8 104.0 326.0 C102.5 321.2 102.2 309.6 103.0 305.0 Z" fill="#fde8cf"/>
<path d="M97.2 248.6 L91.9 255.1 L88.3 259.9 L79.9 261.7 L74.0 265.3 L75.2 267.7 L79.9 268.9 L75.8 272.4 L74.6 275.4 L74.0 282.0 L74.7 290.6 L77.1 300.7 L81.2 308.8 L87.3 315.9 L95.4 321.0 L99.0 325.0 L104.0 323.0 L106.0 314.0 L110.7 307.5 L113.0 305.8 L111.9 302.5 L110.2 300.2 L110.7 296.9 L113.0 294.0 L117.5 294.6 L123.1 292.4 L128.7 290.1 L134.8 288.6 L140.9 284.5 L148.0 285.5 L152.0 287.6 L154.1 283.5 L154.5 282.0 L154.0 273.0 L151.6 267.1 L146.8 261.1 L140.8 257.5 L145.0 256.3 L142.0 255.1 L134.8 253.7 L128.9 253.3 L133.0 251.5 L131.3 250.6 L124.1 249.8 L115.7 249.2 L106.2 251.0 L100.2 252.7 L101.4 248.6 Z" fill="#0b0a08" stroke="#0b0a08" stroke-width="0.8" stroke-linejoin="round"/>
<path d="M102.0 306.8 C103.2 305.8 105.1 306.9 106.5 307.5 C107.9 308.1 109.8 309.1 110.5 310.5 C111.2 311.9 111.2 314.4 111.0 316.0 C110.8 317.6 110.4 319.3 109.6 320.4 C108.8 321.5 107.1 322.4 106.0 322.8 C104.9 323.2 103.9 323.3 102.9 322.7 C101.9 322.1 100.6 320.5 100.0 319.0 C99.4 317.5 99.2 315.7 99.5 313.7 C99.8 311.7 100.8 307.8 102.0 306.8 Z" fill="#fde8cf"/>
<path d="M104.2 311.8 Q107 312.5 106.5 315.5 Q106 318 108.3 319.6 M106.2 315.8 Q104.8 317.5 104.3 319.8" stroke="#111" stroke-width="1.1" fill="none" stroke-linecap="round"/>
<path d="M109.6 308 Q122 316.5 131.4 322 M106.2 325 Q116 334 128.5 340 M131.2 322 L129.8 340" stroke="#f7f2ea" stroke-width="1.4" fill="none"/>
<path d="M131.4 322.3 C132.9 319.8 136.6 317.9 139.5 316.2 C142.4 314.5 146.5 313.0 149.0 312.1 C151.5 311.2 152.9 310.4 154.3 310.8 C155.8 311.2 157.1 312.8 157.7 314.8 C158.3 316.8 158.3 320.0 157.7 322.9 C157.1 325.8 156.0 329.8 154.3 332.4 C152.6 335.0 150.3 336.9 147.6 338.4 C144.9 339.8 141.2 340.8 138.2 341.1 C135.2 341.5 131.1 342.2 129.8 340.5 C128.6 338.8 130.4 334.0 130.7 331.0 C131.0 328.0 129.9 324.8 131.4 322.3 Z" fill="#6db2dc"/>
<circle cx="145.5" cy="303.8" r="2.5" fill="#111"/>
<path d="M140.3 298.2 Q145.5 295.2 149.3 300.2" stroke="#111" stroke-width="1.3" fill="none" stroke-linecap="round"/>
<g fill="none" stroke="#a6d3ee" stroke-width="1.4" stroke-linecap="round" stroke-linejoin="round">
<path d="M162.8 323.7 C163.9 323.2 167.0 322.0 169.4 320.9 C171.8 319.8 174.9 318.5 177.0 317.1 C179.1 315.7 180.8 313.8 181.7 312.4 C182.6 311.0 182.9 309.6 182.6 308.6 C182.3 307.6 180.9 306.5 179.8 306.2 C178.7 305.9 176.9 306.1 176.0 306.7 C175.1 307.2 174.5 308.6 174.6 309.5 C174.7 310.4 175.8 311.6 176.5 311.9 C177.2 312.2 178.5 311.5 178.9 311.4 "/>
<path d="M167.0 319.6 C166.4 320.3 163.9 323.0 163.3 323.7 "/>
<path d="M183.6 320.0 C184.4 319.8 186.9 319.3 188.3 318.5 C189.7 317.7 191.4 316.2 192.0 315.2 C192.6 314.2 192.5 313.0 192.0 312.4 C191.5 311.8 190.0 311.2 189.2 311.4 C188.4 311.5 187.5 312.7 187.4 313.3 C187.3 313.9 188.6 314.9 188.8 315.2 "/>
<path d="M180.8 324.2 C182.1 323.8 187.2 322.2 188.5 321.8 "/>
<path d="M162.8 327.5 C164.2 327.4 168.0 327.3 171.3 327.2 C174.6 327.1 179.8 327.2 182.6 327.0 C185.4 326.8 186.4 326.0 188.3 325.9 C190.2 325.8 192.8 325.9 194.0 326.5 C195.2 327.1 195.8 328.6 195.8 329.4 C195.8 330.2 194.7 331.0 194.0 331.2 C193.3 331.4 191.9 330.8 191.6 330.3 C191.3 329.8 191.9 328.6 192.0 328.3 "/>
<path d="M163.8 328.6 C165.2 328.9 169.9 329.6 172.3 330.3 C174.7 331.1 176.8 332.2 178.0 333.1 C179.2 334.1 179.7 335.1 179.8 336.0 C180.0 336.9 179.5 337.9 178.9 338.3 C178.3 338.7 177.0 338.6 176.5 338.3 C176.0 338.0 175.8 336.9 176.0 336.4 C176.2 335.9 177.2 335.6 177.5 335.5 "/>
<path d="M184.5 331.2 C185.1 331.5 187.4 332.3 188.3 333.1 C189.2 333.9 190.0 335.1 190.2 336.0 C190.3 336.9 189.7 337.9 189.2 338.3 C188.7 338.7 187.8 338.6 187.4 338.3 C187.0 338.0 187.0 336.7 186.9 336.4 "/>
</g>
<path d="M281.9 364.5 C280.6 358.5 284.3 360.4 287.6 356.6 C290.9 352.8 294.2 351.0 298.6 345.6 C303.0 340.2 305.5 336.7 309.6 329.8 C313.7 322.9 315.9 317.8 319.1 310.9 C322.3 304.0 322.6 300.9 325.4 295.2 C328.2 289.5 330.3 286.8 333.2 282.6 C336.1 278.4 337.6 276.8 340.0 274.0 C342.4 271.2 343.0 270.6 345.0 268.5 C347.0 266.4 348.1 265.3 350.1 263.5 C352.1 261.7 353.5 261.1 355.2 259.5 C356.9 257.9 356.3 257.1 358.5 255.5 C360.7 253.9 362.5 252.6 366.3 251.5 C370.1 250.4 373.4 250.1 377.4 249.8 C381.4 249.5 382.2 249.4 386.5 250.0 C390.8 250.6 394.6 251.2 398.7 252.7 C402.8 254.2 404.0 255.1 406.8 257.7 C409.6 260.3 411.2 263.3 412.8 265.8 C414.4 268.3 415.7 268.9 414.9 270.0 C414.1 271.1 411.6 271.3 408.8 271.2 C406.0 271.1 404.3 269.9 400.7 269.3 C397.1 268.7 395.1 268.3 390.6 268.3 C386.1 268.3 382.5 268.3 378.4 269.3 C374.3 270.3 372.4 271.2 370.0 273.5 C367.6 275.8 365.0 279.9 366.3 281.0 C367.6 282.1 371.1 279.6 376.4 279.0 C381.7 278.4 386.5 277.7 392.6 278.0 C398.7 278.3 401.9 278.8 406.8 280.3 C411.7 281.8 413.3 282.9 416.9 285.3 C420.5 287.7 421.8 289.4 425.0 292.4 C428.2 295.4 430.3 297.3 433.1 300.5 C435.9 303.7 437.4 305.9 439.1 308.6 C440.8 311.3 442.4 312.5 441.6 314.1 C440.8 315.7 438.4 317.1 435.1 316.7 C431.8 316.3 427.8 311.7 425.0 312.0 C422.2 312.3 421.7 314.4 421.0 318.0 C420.3 321.6 421.3 324.9 421.4 329.8 C421.5 334.7 422.0 337.4 421.4 342.4 C420.8 347.4 419.9 351.8 418.3 355.0 C416.7 358.2 415.7 358.2 413.5 358.2 C411.3 358.2 409.4 355.5 407.2 355.0 C405.0 354.5 404.1 356.2 402.5 355.6 C400.9 355.0 400.0 354.5 399.4 351.9 C398.8 349.3 399.7 347.4 399.4 342.4 C399.1 337.4 398.8 329.2 397.8 326.7 C396.8 324.2 397.8 327.3 394.6 329.8 C391.4 332.3 387.0 334.9 382.0 339.3 C377.0 343.7 374.5 346.2 369.5 351.9 C364.5 357.6 361.9 361.3 356.9 367.6 C351.9 373.9 350.6 377.4 344.3 383.4 C338.0 389.4 331.7 393.1 325.4 397.5 C319.1 401.9 316.6 405.1 312.8 405.4 C309.0 405.7 310.3 402.9 306.5 399.1 C302.7 395.3 298.8 393.4 293.9 386.5 C289.0 379.6 283.2 370.5 281.9 364.5 Z" fill="#fde8d1" stroke="#f8dcc0" stroke-width="0.6"/>
<path d="M355.1 259.6 C354.9 258.4 356.1 256.2 357.1 254.8 C358.1 253.5 359.6 252.4 361.2 251.5 C362.8 250.6 364.8 249.7 366.6 249.1 C368.4 248.5 370.3 248.4 372.0 248.2 C373.7 248.0 375.7 247.5 376.7 248.1 C377.7 248.7 378.8 250.6 378.0 251.5 C377.2 252.4 373.9 252.9 372.0 253.5 C370.1 254.1 368.2 254.1 366.6 254.8 C365.0 255.5 363.9 256.2 362.5 257.5 C361.1 258.8 359.7 261.9 358.5 262.3 C357.3 262.7 355.3 260.9 355.1 259.6 Z" fill="#94cbeb"/>
<path d="M330 292 Q333 288 336 290 M339 302 Q344 298 347 301 M352 308 Q358 306 362 307 M378 302 Q388 300 395 303" stroke="#f0cfb2" stroke-width="0.9" fill="none"/>
<rect x="471" y="55.8" width="249" height="293.6" fill="url(#panelG)"/>
<clipPath id="pc"><rect x="471" y="56" width="249" height="293"/></clipPath>
<g clip-path="url(#pc)">
<circle cx="504.3" cy="55.8" r="14.95" fill="#7fa8d8" opacity="0.13"/>
<circle cx="504.3" cy="55.8" r="11.75" fill="#fff"/>
<circle cx="554.8" cy="51.5" r="14.899999999999999" fill="#7fa8d8" opacity="0.13"/>
<circle cx="554.8" cy="51.5" r="11.7" fill="#fff"/>
<circle cx="609.8" cy="60.8" r="14.0" fill="#7fa8d8" opacity="0.13"/>
<circle cx="609.8" cy="60.8" r="10.8" fill="#fff"/>
<circle cx="674.8" cy="55.8" r="17.4" fill="#7fa8d8" opacity="0.13"/>
<circle cx="674.8" cy="55.8" r="14.2" fill="#fff"/>
<circle cx="473.6" cy="105.8" r="14.399999999999999" fill="#7fa8d8" opacity="0.18"/>
<circle cx="473.6" cy="105.8" r="11.2" fill="#fff"/>
<circle cx="476.7" cy="168.7" r="14.5" fill="#7fa8d8" opacity="0.24"/>
<circle cx="476.7" cy="168.7" r="11.3" fill="#fff"/>
<circle cx="467" cy="220.6" r="13.2" fill="#7fa8d8" opacity="0.24"/>
<circle cx="467" cy="220.6" r="10" fill="#fff"/>
<circle cx="468.5" cy="286" r="22.2" fill="#7fa8d8" opacity="0.24"/>
<circle cx="468.5" cy="286" r="19" fill="#fff"/>
<circle cx="725.4" cy="117" r="18.9" fill="#7fa8d8" opacity="0.18"/>
<circle cx="725.4" cy="117" r="15.7" fill="#fff"/>
<circle cx="723" cy="171" r="18.2" fill="#7fa8d8" opacity="0.24"/>
<circle cx="723" cy="171" r="15" fill="#fff"/>
<circle cx="721.8" cy="234.7" r="12.7" fill="#7fa8d8" opacity="0.24"/>
<circle cx="721.8" cy="234.7" r="9.5" fill="#fff"/>
<circle cx="726" cy="290" r="21.7" fill="#7fa8d8" opacity="0.24"/>
<circle cx="726" cy="290" r="18.5" fill="#fff"/>
</g>
<path d="M493.7 333.5 L493.7 111 L490.55 111 L495.3 101 L500.05 111 L496.90000000000003 111 L496.90000000000003 333.5 Z" fill="url(#redA)"/>
<path d="M594.4 147.5 L594.4 118 L591.5 118 L596 109 L600.5 118 L597.6 118 L597.6 147.5 Z" fill="url(#yelA)"/>
<path d="M519.1 232 L519.1 200.3 L516.2 200.3 L520.7 191.3 L525.2 200.3 L522.3000000000001 200.3 L522.3000000000001 232 Z" fill="url(#yelA)"/>
<path d="M679.6 228 L679.6 197.3 L676.7 197.3 L681.2 188.3 L685.7 197.3 L682.8000000000001 197.3 L682.8000000000001 228 Z" fill="url(#yelA)"/>
<path d="M555.5 183 L555.5 173 L552.75 173 L557 165 L561.25 173 L558.5 173 L558.5 183 Z" fill="url(#bluS)"/>
<path d="M678.9 153 L678.9 138.5 L676.15 138.5 L680.4 130.5 L684.65 138.5 L681.9 138.5 L681.9 153 Z" fill="url(#bluS)"/>
<path d="M660.3 260 L660.3 246.8 L657.55 246.8 L661.8 238.8 L666.05 246.8 L663.3 246.8 L663.3 260 Z" fill="url(#bluS)"/>
<path d="M540.8 338.5 Q543 250 562 213 Q575 187 591.2 186.7 Q607 187 620 210 Q633 240 642.7 338.5 Z" fill="none" stroke="#fff" stroke-width="2"/>
<path d="M563.8 338.5 L563.8 307.2 L560.5 307.2 L565 297.2 L569.5 307.2 L566.2 307.2 L566.2 338.5 Z" fill="#fff"/>
<path d="M591.5999999999999 338.5 L591.5999999999999 290.2 L588.3 290.2 L592.8 280.2 L597.3 290.2 L594.0 290.2 L594.0 338.5 Z" fill="#fff"/>
<path d="M618.5999999999999 338.5 L618.5999999999999 305.8 L615.3 305.8 L619.8 295.8 L624.3 305.8 L621.0 305.8 L621.0 338.5 Z" fill="#fff"/>
<text transform="translate(609.6 332.6) rotate(-90)" font-family="Liberation Sans" font-size="16" fill="#fff" textLength="110" lengthAdjust="spacingAndGlyphs">Marangoni flow</text>
<circle cx="480" cy="83" r="8.6" fill="#c7e2b5"/>
<path d="M475.3 83 L484.7 83 M480 78.3 L480 87.7" stroke="#3b68cc" stroke-width="2.9"/>
<circle cx="480" cy="143.3" r="8.6" fill="#c7e2b5"/>
<path d="M475.3 143.3 L484.7 143.3 M480 138.60000000000002 L480 148.0" stroke="#3b68cc" stroke-width="2.9"/>
<circle cx="480" cy="200.3" r="8.6" fill="#c7e2b5"/>
<path d="M475.3 200.3 L484.7 200.3 M480 195.60000000000002 L480 205.0" stroke="#3b68cc" stroke-width="2.9"/>
<circle cx="480" cy="256.2" r="8.6" fill="#c7e2b5"/>
<path d="M475.3 256.2 L484.7 256.2 M480 251.5 L480 260.9" stroke="#3b68cc" stroke-width="2.9"/>
<circle cx="480" cy="314.2" r="8.6" fill="#c7e2b5"/>
<path d="M475.3 314.2 L484.7 314.2 M480 309.5 L480 318.9" stroke="#3b68cc" stroke-width="2.9"/>
<circle cx="710.3" cy="87.7" r="8.6" fill="#c7e2b5"/>
<path d="M705.5999999999999 87.7 L715.0 87.7 M710.3 83.0 L710.3 92.4" stroke="#3b68cc" stroke-width="2.9"/>
<circle cx="710.3" cy="144.7" r="8.6" fill="#c7e2b5"/>
<path d="M705.5999999999999 144.7 L715.0 144.7 M710.3 140.0 L710.3 149.39999999999998" stroke="#3b68cc" stroke-width="2.9"/>
<circle cx="710.4" cy="202.4" r="8.6" fill="#c7e2b5"/>
<path d="M705.6999999999999 202.4 L715.1 202.4 M710.4 197.70000000000002 L710.4 207.1" stroke="#3b68cc" stroke-width="2.9"/>
<circle cx="710.4" cy="260" r="8.6" fill="#c7e2b5"/>
<path d="M705.6999999999999 260 L715.1 260 M710.4 255.3 L710.4 264.7" stroke="#3b68cc" stroke-width="2.9"/>
<circle cx="710.4" cy="315.2" r="8.6" fill="#c7e2b5"/>
<path d="M705.6999999999999 315.2 L715.1 315.2 M710.4 310.5 L710.4 319.9" stroke="#3b68cc" stroke-width="2.9"/>
<circle cx="560.7" cy="143.8" r="14" fill="#fde38f"/>
<text x="554.8000000000001" y="148.20000000000002" font-family="Liberation Sans" font-weight="bold" font-size="12.6" fill="#111" textLength="11" lengthAdjust="spacingAndGlyphs">Cl</text>
<rect x="566.9000000000001" y="142.3" width="1.8" height="1.1" fill="#222"/>
<circle cx="512.6" cy="119.2" r="14" fill="#fde38f"/>
<text x="506.70000000000005" y="123.60000000000001" font-family="Liberation Sans" font-weight="bold" font-size="12.6" fill="#111" textLength="11" lengthAdjust="spacingAndGlyphs">Cl</text>
<rect x="518.8000000000001" y="117.7" width="1.8" height="1.1" fill="#222"/>
<circle cx="523" cy="175.5" r="14" fill="#fde38f"/>
<text x="517.1" y="179.9" font-family="Liberation Sans" font-weight="bold" font-size="12.6" fill="#111" textLength="11" lengthAdjust="spacingAndGlyphs">Cl</text>
<rect x="529.2" y="174.0" width="1.8" height="1.1" fill="#222"/>
<circle cx="520.7" cy="246.4" r="14" fill="#fde38f"/>
<text x="514.8000000000001" y="250.8" font-family="Liberation Sans" font-weight="bold" font-size="12.6" fill="#111" textLength="11" lengthAdjust="spacingAndGlyphs">Cl</text>
<rect x="526.9000000000001" y="244.9" width="1.8" height="1.1" fill="#222"/>
<circle cx="520" cy="286" r="14" fill="#fde38f"/>
<text x="514.1" y="290.4" font-family="Liberation Sans" font-weight="bold" font-size="12.6" fill="#111" textLength="11" lengthAdjust="spacingAndGlyphs">Cl</text>
<rect x="526.2" y="284.5" width="1.8" height="1.1" fill="#222"/>
<circle cx="589.2" cy="95.3" r="14" fill="#fde38f"/>
<text x="583.3000000000001" y="99.7" font-family="Liberation Sans" font-weight="bold" font-size="12.6" fill="#111" textLength="11" lengthAdjust="spacingAndGlyphs">Cl</text>
<rect x="595.4000000000001" y="93.8" width="1.8" height="1.1" fill="#222"/>
<circle cx="595.4" cy="161.3" r="14" fill="#fde38f"/>
<text x="589.5" y="165.70000000000002" font-family="Liberation Sans" font-weight="bold" font-size="12.6" fill="#111" textLength="11" lengthAdjust="spacingAndGlyphs">Cl</text>
<rect x="601.6" y="159.8" width="1.8" height="1.1" fill="#222"/>
<circle cx="640.8" cy="113.7" r="14" fill="#fde38f"/>
<text x="634.9" y="118.10000000000001" font-family="Liberation Sans" font-weight="bold" font-size="12.6" fill="#111" textLength="11" lengthAdjust="spacingAndGlyphs">Cl</text>
<rect x="647.0" y="112.2" width="1.8" height="1.1" fill="#222"/>
<circle cx="685.4" cy="98.5" r="14" fill="#fde38f"/>
<text x="679.5" y="102.9" font-family="Liberation Sans" font-weight="bold" font-size="12.6" fill="#111" textLength="11" lengthAdjust="spacingAndGlyphs">Cl</text>
<rect x="691.6" y="97.0" width="1.8" height="1.1" fill="#222"/>
<circle cx="652" cy="168" r="14" fill="#fde38f"/>
<text x="646.1" y="172.4" font-family="Liberation Sans" font-weight="bold" font-size="12.6" fill="#111" textLength="11" lengthAdjust="spacingAndGlyphs">Cl</text>
<rect x="658.2" y="166.5" width="1.8" height="1.1" fill="#222"/>
<circle cx="648.5" cy="222.6" r="14" fill="#fde38f"/>
<text x="642.6" y="227.0" font-family="Liberation Sans" font-weight="bold" font-size="12.6" fill="#111" textLength="11" lengthAdjust="spacingAndGlyphs">Cl</text>
<rect x="654.7" y="221.1" width="1.8" height="1.1" fill="#222"/>
<circle cx="681.2" cy="242.3" r="14" fill="#fde38f"/>
<text x="675.3000000000001" y="246.70000000000002" font-family="Liberation Sans" font-weight="bold" font-size="12.6" fill="#111" textLength="11" lengthAdjust="spacingAndGlyphs">Cl</text>
<rect x="687.4000000000001" y="240.8" width="1.8" height="1.1" fill="#222"/>
<circle cx="678.4" cy="295" r="14" fill="#fde38f"/>
<text x="672.5" y="299.4" font-family="Liberation Sans" font-weight="bold" font-size="12.6" fill="#111" textLength="11" lengthAdjust="spacingAndGlyphs">Cl</text>
<rect x="684.6" y="293.5" width="1.8" height="1.1" fill="#222"/>
<circle cx="571.5" cy="268.6" r="14" fill="#fde38f"/>
<text x="565.6" y="273.0" font-family="Liberation Sans" font-weight="bold" font-size="12.6" fill="#111" textLength="11" lengthAdjust="spacingAndGlyphs">Cl</text>
<rect x="577.7" y="267.1" width="1.8" height="1.1" fill="#222"/>
<circle cx="503.6" cy="33.6" r="2.9" fill="#d6404e"/>
<circle cx="512" cy="28" r="2.9" fill="#d6404e"/>
<circle cx="511" cy="35.8" r="6.2" fill="#9cc3e8"/>
<circle cx="554" cy="34.3" r="2.9" fill="#d6404e"/>
<circle cx="562.7" cy="29" r="2.9" fill="#d6404e"/>
<circle cx="561" cy="36.5" r="6.2" fill="#9cc3e8"/>
<circle cx="610" cy="25.3" r="2.9" fill="#d6404e"/>
<circle cx="620" cy="27.5" r="2.9" fill="#d6404e"/>
<circle cx="613.7" cy="32" r="6.2" fill="#9cc3e8"/>
<circle cx="675.3" cy="47" r="2.9" fill="#d6404e"/>
<circle cx="683.7" cy="41.5" r="2.9" fill="#d6404e"/>
<circle cx="682.8" cy="49.3" r="6.2" fill="#9cc3e8"/>
<circle cx="522.7" cy="82" r="2.9" fill="#d6404e"/>
<circle cx="531.7" cy="75.6" r="2.9" fill="#d6404e"/>
<circle cx="530.6" cy="83" r="6.2" fill="#9cc3e8"/>
<circle cx="639" cy="75.6" r="2.9" fill="#d6404e"/>
<circle cx="649.7" cy="75.2" r="2.9" fill="#d6404e"/>
<circle cx="644.7" cy="81.5" r="6.2" fill="#9cc3e8"/>
<circle cx="556" cy="100" r="2.9" fill="#d6404e"/>
<circle cx="565.8" cy="104.3" r="2.9" fill="#d6404e"/>
<circle cx="559.5" cy="105.8" r="6.2" fill="#9cc3e8"/>
<circle cx="676" cy="153.7" r="2.9" fill="#d6404e"/>
<circle cx="685.6" cy="158.7" r="2.9" fill="#d6404e"/>
<circle cx="678.2" cy="161.3" r="6.2" fill="#9cc3e8"/>
<circle cx="552.6" cy="185.3" r="2.9" fill="#d6404e"/>
<circle cx="561.6" cy="190" r="2.9" fill="#d6404e"/>
<circle cx="554.4" cy="192.5" r="6.2" fill="#9cc3e8"/>
<circle cx="657" cy="260.3" r="2.9" fill="#d6404e"/>
<circle cx="666.4" cy="265" r="2.9" fill="#d6404e"/>
<circle cx="659.7" cy="267.6" r="6.2" fill="#9cc3e8"/>
<linearGradient id="ca1" gradientUnits="userSpaceOnUse" x1="507.3" y1="61" x2="493.7" y2="41"><stop offset="0" stop-color="#ffffff"/><stop offset="0.45" stop-color="#d4e0f4"/><stop offset="1" stop-color="#9fb6e6"/></linearGradient>
<path d="M507.3 61 Q506 51 497.3 48.7" stroke="url(#ca1)" stroke-width="4.2" fill="none"/>
<path d="M493.7 41 L502.7 47.3 L492.7 51.9 Z" fill="url(#ca1)"/>
<linearGradient id="ca2" gradientUnits="userSpaceOnUse" x1="556" y1="58" x2="541.9" y2="41.6"><stop offset="0" stop-color="#ffffff"/><stop offset="0.45" stop-color="#d4e0f4"/><stop offset="1" stop-color="#9fb6e6"/></linearGradient>
<path d="M556 58 Q555 50 547.1 48.5" stroke="url(#ca2)" stroke-width="4.2" fill="none"/>
<path d="M541.9 41.6 L552.1 46.0 L543.3 52.6 Z" fill="url(#ca2)"/>
<linearGradient id="ca3" gradientUnits="userSpaceOnUse" x1="606.4" y1="61" x2="619.9" y2="41.3"><stop offset="0" stop-color="#ffffff"/><stop offset="0.45" stop-color="#d4e0f4"/><stop offset="1" stop-color="#9fb6e6"/></linearGradient>
<path d="M606.4 61 Q607 52 616.6 49.1" stroke="url(#ca3)" stroke-width="4.2" fill="none"/>
<path d="M619.9 41.3 L621.0 52.0 L611.4 48.0 Z" fill="url(#ca3)"/>
<linearGradient id="ca4" gradientUnits="userSpaceOnUse" x1="674.1" y1="63.3" x2="661.2" y2="42.9"><stop offset="0" stop-color="#ffffff"/><stop offset="0.45" stop-color="#d4e0f4"/><stop offset="1" stop-color="#9fb6e6"/></linearGradient>
<path d="M674.1 63.3 Q673 55 664.8 51.6" stroke="url(#ca4)" stroke-width="4.2" fill="none"/>
<path d="M661.2 42.9 L670.3 50.4 L660.1 54.6 Z" fill="url(#ca4)"/>
<path d="M473.9 417 L473.9 374.3 L471.0 374.3 L475.5 364.3 L480.0 374.3 L477.1 374.3 L477.1 417 Z" fill="url(#bluA)"/>
<path d="M549.3 418 L549.3 374.3 L546.4 374.3 L550.9 364.3 L555.4 374.3 L552.5 374.3 L552.5 418 Z" fill="url(#yelA)"/>
<path d="M623.9 417.5 L623.9 374.3 L621.0 374.3 L625.5 364.3 L630.0 374.3 L627.1 374.3 L627.1 417.5 Z" fill="url(#redA)"/>
<text x="489.5" y="377.2" font-family="Liberation Sans" font-size="16" fill="#1a1a1a">Water</text>
<text x="492.2" y="416" font-family="Liberation Sans" font-size="16" fill="#1a1a1a">Mass</text>
<text x="571.3" y="377.2" font-family="Liberation Sans" font-size="16" fill="#1a1a1a">Ions</text>
<text x="560" y="416" font-family="Liberation Sans" font-size="16" fill="#1a1a1a">Charge</text>
<text x="639.6" y="377.2" font-family="Liberation Sans" font-size="16" fill="#1a1a1a" textLength="92">Temperature</text>
<text x="668.3" y="416" font-family="Liberation Sans" font-size="16" fill="#1a1a1a">Heat</text>
<rect x="509.5" y="381" width="1.3" height="19" fill="#a9bfe6"/>
<rect x="585.2" y="381" width="1.3" height="18.5" fill="#f8d88a"/>
<rect x="685.6" y="381.5" width="1.3" height="17.5" fill="#e07a80"/></svg>
</body></html>
